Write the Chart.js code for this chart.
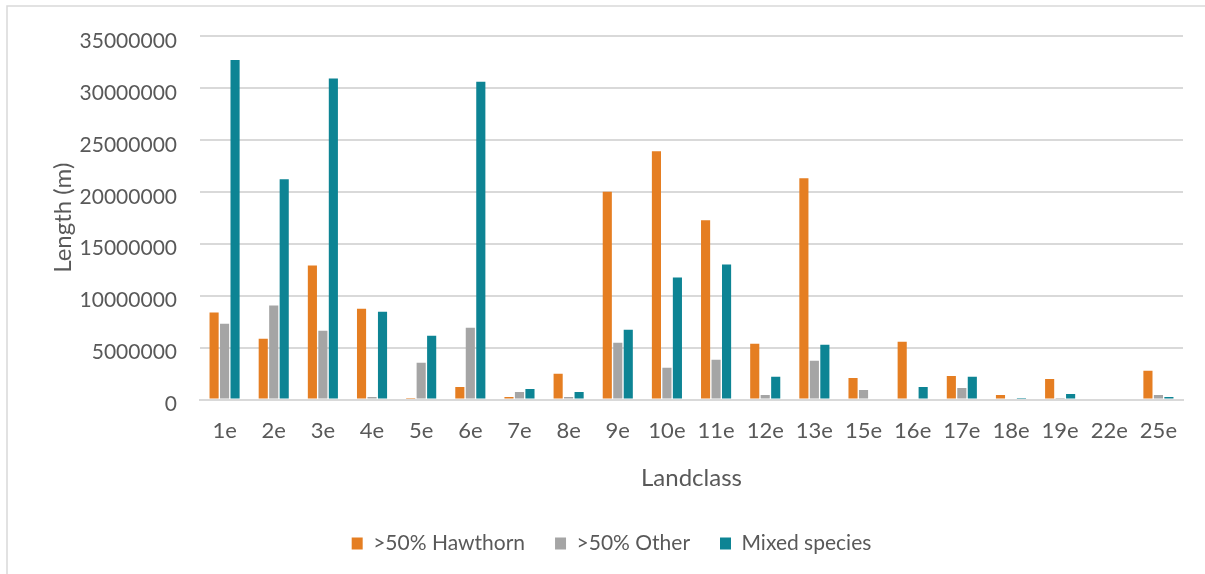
<!DOCTYPE html>
<html>
<head>
<meta charset="utf-8">
<script src="https://cdn.jsdelivr.net/npm/chart.js@4.4.1/dist/chart.umd.min.js"></script>
<style>
  html, body { margin: 0; padding: 0; background: #ffffff; }
  #wrap { position: relative; width: 1205px; height: 574px; }
  canvas { display: block; }
</style>
</head>
<body>
<div id="wrap"><canvas id="chart" width="1205" height="574"></canvas></div>
<script>
// Hedgerow length by landclass and hedge type
const landclasses = ['1e','2e','3e','4e','5e','6e','7e','8e','9e','10e','11e','12e','13e','15e','16e','17e','18e','19e','22e','25e'];

const hawthorn = [8370000, 5850000, 12900000, 8750000, 50000, 1210000, 240000, 2470000, 20000000, 23900000,
                  17260000, 5370000, 21300000, 2080000, 5560000, 2270000, 440000, 1980000, 0, 2760000];
const other    = [7300000, 9040000, 6620000, 240000, 3530000, 6910000, 730000, 240000, 5460000, 3050000,
                  3820000, 440000, 3720000, 920000, 0, 1110000, 0, 150000, 0, 440000];
const mixed    = [32700000, 21200000, 30900000, 8460000, 6140000, 30600000, 1020000, 730000, 6720000, 11750000,
                  13000000, 2180000, 5270000, 0, 1210000, 2180000, 50000, 530000, 0, 240000];

const seriesNames = ['>50% Hawthorn', '>50% Other', 'Mixed species'];
const seriesColors = ['#E57E22', '#A5A5A5', '#0D8494'];
const yTicks = [0, 5000000, 10000000, 15000000, 20000000, 25000000, 30000000, 35000000];

const FONT = 'Lato, "Open Sans", sans-serif';
const TEXT = '#595959';
const GRID = '#d9d9d9';

// thin outer frame around the chart
const framePlugin = {
  id: 'frame',
  beforeDraw(chart) {
    const ctx = chart.ctx;
    ctx.save();
    ctx.fillStyle = '#ffffff';
    ctx.fillRect(0, 0, chart.width, chart.height);
    ctx.strokeStyle = GRID;
    ctx.lineWidth = 1.5;
    ctx.beginPath();
    ctx.moveTo(7, chart.height + 2);
    ctx.lineTo(7, 6);
    ctx.lineTo(chart.width + 2, 6);
    ctx.stroke();
    ctx.restore();
  }
};

const datasets = [hawthorn, other, mixed].map((vals, i) => ({
  label: seriesNames[i],
  data: vals,
  backgroundColor: seriesColors[i],
  borderWidth: 0,
  categoryPercentage: 0.64,
  barPercentage: 0.87
}));

new Chart(document.getElementById('chart'), {
  type: 'bar',
  data: { labels: landclasses, datasets },
  plugins: [framePlugin],
  options: {
    responsive: false,
    animation: false,
    layout: { padding: { left: 40, right: 22, top: 36, bottom: 10 } },
    plugins: {
      tooltip: { enabled: false },
      legend: {
        position: 'bottom',
        labels: {
          boxWidth: 11,
          boxHeight: 12,
          padding: 30,
          color: TEXT,
          font: { family: FONT, size: 21 }
        }
      }
    },
    scales: {
      x: {
        grid: { display: false, drawTicks: false },
        border: { display: true, color: GRID, width: 2 },
        ticks: { color: TEXT, font: { family: FONT, size: 22 }, padding: 18, maxRotation: 0, autoSkip: false },
        title: { display: true, text: 'Landclass', color: TEXT, font: { family: FONT, size: 24 }, padding: { top: 0, bottom: 10 } },
        afterFit(scale) { scale.height = 103.5; }
      },
      y: {
        min: 0,
        max: 35000000,
        afterBuildTicks(scale) { scale.ticks = yTicks.map(v => ({ value: v })); },
        grid: { color: GRID, lineWidth: 2, drawTicks: false },
        border: { display: false },
        ticks: { color: TEXT, font: { family: FONT, size: 21 }, padding: 23, labelOffset: 5, callback: v => String(v) },
        title: { display: true, text: 'Length (m)', color: TEXT, font: { family: FONT, size: 24 }, padding: { top: 9, bottom: 0 } },
        afterFit(scale) { scale.width = 160; }
      }
    }
  }
});
</script>
</body>
</html>
